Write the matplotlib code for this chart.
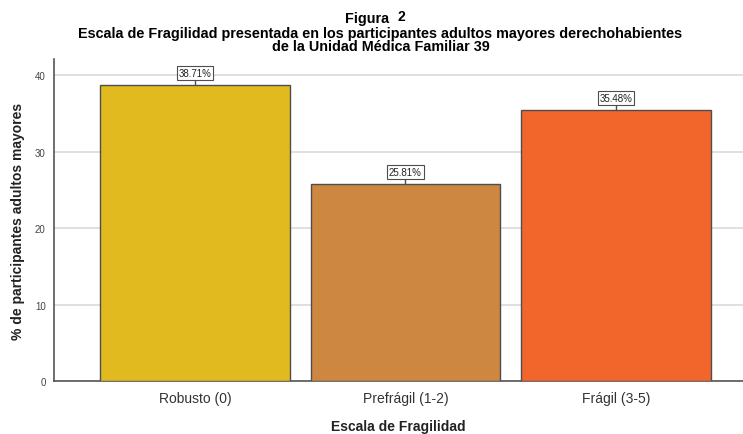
import matplotlib.pyplot as plt

# Frailty scale categories and percentage of participants
categorias = ["Robusto (0)", "Prefrágil (1-2)", "Frágil (3-5)"]
porcentajes = [38.71, 25.81, 35.48]
colores = ["#e0ba1f", "#cd8741", "#f2662b"]
yticks = [0, 10, 20, 30, 40]

plt.rcParams['font.family'] = ['Liberation Sans', 'DejaVu Sans']

fig = plt.figure(figsize=(7.43, 4.35), dpi=100)
ax = fig.add_axes([0.0727, 0.1218, 0.927, 0.740])

x = range(len(categorias))
ax.bar(x, porcentajes, width=0.9, color=colores, edgecolor="#4d4d4d",
       linewidth=1.0, zorder=3)

# value labels with a short tick above each bar
for xi, v in zip(x, porcentajes):
    ax.vlines(xi, v, v + 0.9, color="#4d4d4d", linewidth=1.0, zorder=3)
    ax.text(xi, v + 0.9, f"{v:.2f}%", ha="center", va="bottom", fontsize=7,
            color="#222222", zorder=4,
            bbox=dict(boxstyle="square,pad=0.2", facecolor="white",
                      edgecolor="#4d4d4d", linewidth=0.8))

ax.set_xlim(-0.67, 2.603)
ax.set_ylim(0, 42.1)
ax.set_yticks(yticks)
ax.set_xticks(list(x))
ax.set_xticklabels(categorias, fontsize=10, color="#333333")
ax.tick_params(axis="y", length=0, labelsize=7, colors="#444444", pad=6)
ax.tick_params(axis="x", length=0, pad=7)
ax.grid(axis="y", color="#d9d9d9", linewidth=1.2, zorder=0)

for s in ["top", "right"]:
    ax.spines[s].set_visible(False)
for s in ["left", "bottom"]:
    ax.spines[s].set_color("#555555")
    ax.spines[s].set_linewidth(1.2)

ax.set_xlabel("Escala de Fragilidad", fontsize=10, fontweight="bold",
              color="#222222", labelpad=10)
ax.set_ylabel("% de participantes adultos mayores", fontsize=10,
              fontweight="bold", color="#222222", labelpad=7)

fig.text(0.5236, 0.956, "Figura", ha="right", va="center", fontsize=10.4,
         fontweight="bold")
fig.text(0.535, 0.961, "2", ha="left", va="center", fontsize=10,
         fontweight="bold")
fig.text(0.512, 0.922, "Escala de Fragilidad presentada en los participantes adultos mayores derechohabientes",
         ha="center", va="center", fontsize=10.4, fontweight="bold")
fig.text(0.512, 0.892, "de la Unidad Médica Familiar 39",
         ha="center", va="center", fontsize=10.4, fontweight="bold")

fig.savefig("out.png", dpi=100)
